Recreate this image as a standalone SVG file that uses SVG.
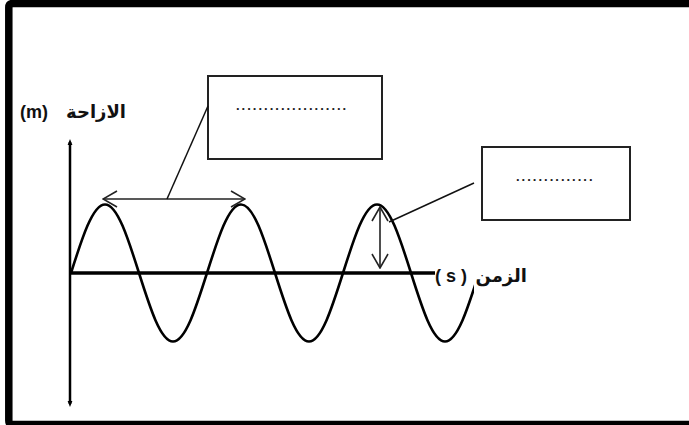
<svg xmlns="http://www.w3.org/2000/svg" width="689" height="425" viewBox="0 0 689 425">
<defs>
<style>
.frame{fill:none;stroke:#000;stroke-width:7.5;stroke-linejoin:round}
.box{fill:#fff;stroke:#222;stroke-width:2}
.dots{font-family:"Liberation Sans","DejaVu Sans",sans-serif;font-size:13px;font-weight:bold;fill:#222;letter-spacing:2px}
.lbl{font-family:"Liberation Sans","DejaVu Sans",sans-serif;font-size:18px;font-weight:bold;fill:#111}
.ar{font-family:"DejaVu Sans","Liberation Sans",sans-serif;font-size:18px;font-weight:bold;fill:#111}
.axis{stroke:#000;fill:none}
.lead{stroke:#111;stroke-width:1.5;fill:none}
.dim{stroke:#222;stroke-width:1.6;fill:none}
</style>
<marker id="tri" viewBox="0 0 10 10" refX="5" refY="5" markerWidth="6" markerHeight="6" orient="auto-start-reverse" markerUnits="userSpaceOnUse">
<path d="M0,1 L10,5 L0,9 z" fill="#000"/>
</marker>
<marker id="vee" viewBox="0 0 16 18" refX="15" refY="9" markerWidth="16" markerHeight="18" orient="auto-start-reverse" markerUnits="userSpaceOnUse">
<path d="M1,1 L15,9 L1,17" fill="none" stroke="#222" stroke-width="1.6"/>
</marker>
<clipPath id="wclip"><rect x="60" y="190" width="414" height="170"/></clipPath>
</defs>
<rect width="689" height="425" fill="#fff"/>
<path class="frame" d="M689,3.5 H12.8 Q8.8,3.5 8.8,7.5 V420.5 Q8.8,424.5 12.8,424.5 H689"/>

<g id="axes">
<line class="axis" x1="70" y1="142" x2="70" y2="404" stroke-width="2.5" marker-start="url(#tri)" marker-end="url(#tri)"/>
<line class="axis" x1="70" y1="273" x2="435" y2="273" stroke-width="3.5"/>
</g>

<g id="wave">
<path clip-path="url(#wclip)" d="M71,273 C82.1,237.9 92.7,204.5 105,204.5 S127.9,237.9 139,273 S160.7,341.5 173,341.5 S195.9,308.1 207,273 S228.7,204.5 241,204.5 S263.9,237.9 275,273 S296.7,341.5 309,341.5 S331.9,308.1 343,273 S364.7,204.5 377,204.5 S399.9,237.9 411,273 S432.7,341.5 445,341.5 S467.9,308.1 479,273" fill="none" stroke="#000" stroke-width="2.6"/>
</g>

<g id="labels">
<text class="lbl" x="20" y="118">(m)</text>
<text class="ar" x="126" y="118" text-anchor="end">الازاحة</text>
<text class="lbl" x="435" y="282">( s )</text>
<text class="ar" x="527" y="282" text-anchor="end">الزمن</text>
</g>

<g id="box-wavelength">
<rect class="box" x="208" y="76" width="174" height="83"/>
<text class="dots" x="236" y="110">....................</text>
</g>

<g id="box-amplitude">
<rect class="box" x="482" y="147" width="148" height="73"/>
<text class="dots" x="516" y="181">..............</text>
</g>

<g id="connectors">
<line class="dim" x1="103" y1="199" x2="245" y2="199" marker-start="url(#vee)" marker-end="url(#vee)"/>
<line class="dim" x1="380" y1="207" x2="380" y2="268" marker-start="url(#vee)" marker-end="url(#vee)"/>
<line class="lead" x1="208" y1="106" x2="167" y2="199"/>
<line class="lead" x1="474" y1="183" x2="389" y2="222"/>
</g>
</svg>
